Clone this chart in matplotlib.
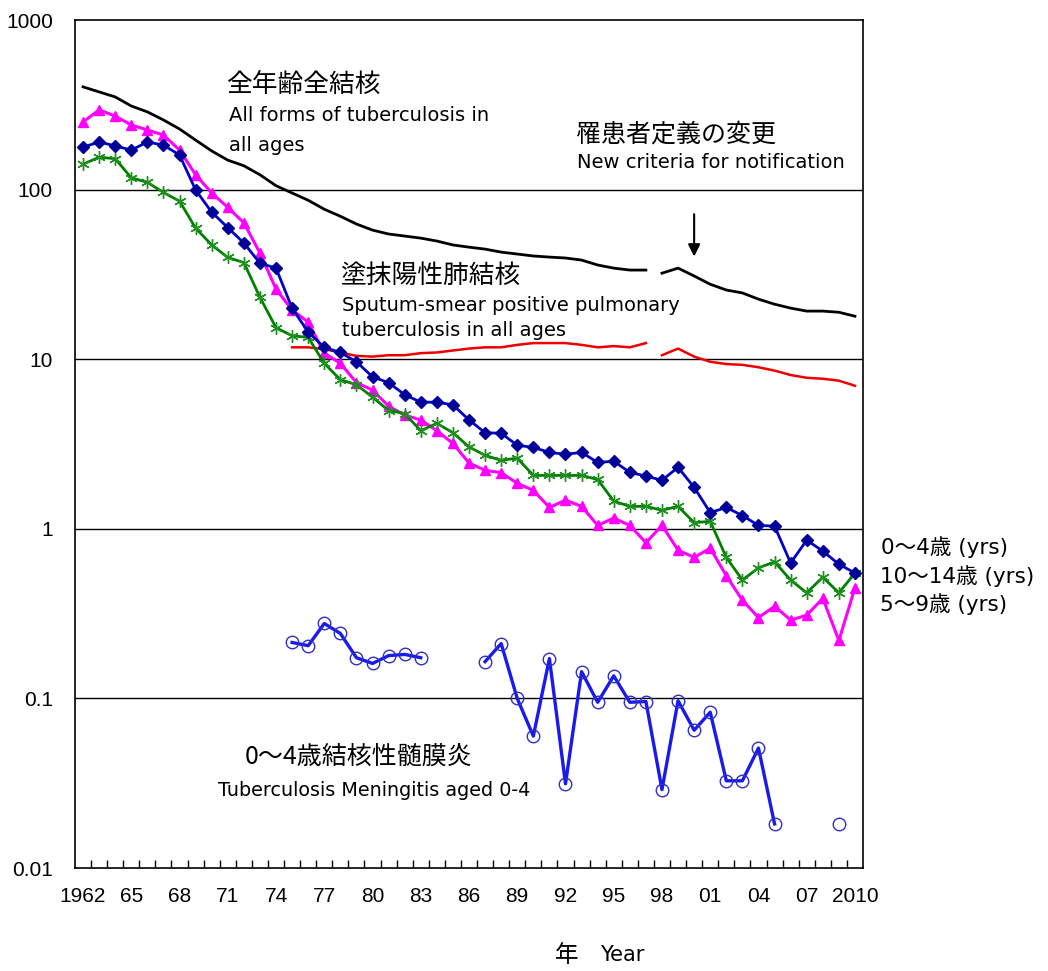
import numpy as np
import matplotlib
matplotlib.use("Agg")
import matplotlib.pyplot as plt
from matplotlib.ticker import FixedLocator, NullFormatter

# ---------------- data ----------------
years = list(range(1962, 2011))

# All forms of TB, all ages (old notification criteria 1962-1997, new 1998-2010)
all_forms_old_years = list(range(1962, 1998))
all_forms_old = [406, 379, 354, 313, 289, 259, 229, 197, 170, 150, 139, 123, 106, 96,
                 87, 77, 70, 63, 58, 55, 53.5, 52, 50, 47.4, 46, 44.8, 43.0, 41.9,
                 40.8, 40.2, 39.7, 38.6, 36.1, 34.6, 33.7, 33.7]
all_forms_new_years = list(range(1998, 2011))
all_forms_new = [32.3, 34.6, 31.1, 27.8, 25.7, 24.7, 22.7, 21.2, 20.1, 19.3, 19.3, 19.0, 18.0]

# Sputum-smear positive pulmonary TB, all ages
smear_old_years = list(range(1975, 1998))
smear_old = [11.8, 11.8, 11.5, 11.0, 10.5, 10.4, 10.6, 10.6, 10.9, 11.0, 11.3, 11.6,
             11.8, 11.8, 12.2, 12.5, 12.5, 12.5, 12.2, 11.8, 12.0, 11.8, 12.5]
smear_new_years = list(range(1998, 2011))
smear_new = [10.6, 11.6, 10.4, 9.7, 9.4, 9.3, 9.0, 8.6, 8.1, 7.8, 7.7, 7.5, 7.0]

# Age groups 1962-2010
age_0_4 = [179, 192, 182, 172, 192, 184, 161, 100, 74, 60, 48.7, 37, 34.6, 20.1,
           14.5, 11.8, 11.0, 9.7, 7.9, 7.3, 6.2, 5.6, 5.6, 5.4, 4.4, 3.7, 3.67, 3.12,
           3.03, 2.83, 2.76, 2.83, 2.47, 2.51, 2.16, 2.05, 1.94, 2.31, 1.76, 1.25,
           1.34, 1.20, 1.05, 1.04, 0.63, 0.86, 0.74, 0.62, 0.55]
age_5_9 = [252, 297, 273, 242, 226, 211, 172, 123, 96, 79, 64, 42.5, 26.0, 19.6,
           16.6, 10.9, 9.5, 7.3, 6.6, 5.3, 4.7, 4.4, 3.8, 3.2, 2.45, 2.22, 2.15, 1.86,
           1.69, 1.34, 1.48, 1.36, 1.05, 1.16, 1.05, 0.83, 1.05, 0.75, 0.68, 0.77,
           0.53, 0.38, 0.30, 0.35, 0.29, 0.31, 0.39, 0.22, 0.45]
age_10_14 = [142, 156, 153, 118, 111, 96.7, 86, 59.6, 47.4, 40, 37.3, 23.3, 15.4, 13.8,
             13.5, 9.5, 7.6, 7.1, 6.0, 5.0, 4.8, 3.8, 4.2, 3.7, 3.05, 2.72, 2.54, 2.62,
             2.07, 2.07, 2.07, 2.07, 1.96, 1.46, 1.36, 1.36, 1.29, 1.36, 1.09, 1.11,
             0.68, 0.50, 0.59, 0.64, 0.50, 0.42, 0.52, 0.42, 0.55]

# TB meningitis aged 0-4 (1975-2009, nan = no data)
men_years = list(range(1975, 2010))
men_vals = [0.214, 0.205, 0.277, 0.242, 0.174, 0.161, 0.179, 0.182, 0.174,
            np.nan, np.nan, np.nan,
            0.165, 0.211, 0.100, 0.060, 0.172, 0.0314, 0.144, 0.095, 0.136, 0.095,
            0.096, 0.029, 0.097, 0.065, 0.083, 0.0327, 0.0327, 0.051, 0.0182,
            np.nan, np.nan, np.nan, 0.0182]

xtick_years = list(range(1962, 2011, 3))
xtick_labels = ["1962", "65", "68", "71", "74", "77", "80", "83", "86", "89", "92",
                "95", "98", "01", "04", "07", "2010"]
ytick_vals = [0.01, 0.1, 1, 10, 100, 1000]
ytick_labels = ["0.01", "0.1", "1", "10", "100", "1000"]

# ---------------- figure ----------------
W, H = 1048, 971
fig = plt.figure(figsize=(W / 100, H / 100), dpi=100)
ax = fig.add_axes([75 / W, 1 - 868 / H, (863 - 75) / W, (868 - 20.5) / H])

JP = ["Noto Sans CJK JP", "DejaVu Sans"]
EN = ["DejaVu Sans", "Noto Sans CJK JP"]
NUM = ["Liberation Sans Narrow", "Liberation Sans", "DejaVu Sans"]

ax.set_yscale("log")
ax.set_ylim(0.01, 1000)
ax.set_xlim(1961.5, 2010.5)

# grid lines at decades
for v in [0.1, 1, 10, 100]:
    ax.axhline(v, color="black", lw=1.0, zorder=1)

# series
ax.plot(all_forms_old_years, all_forms_old, color="black", lw=2.0, zorder=3)
ax.plot(all_forms_new_years, all_forms_new, color="black", lw=2.0, zorder=3)
ax.plot(smear_old_years, smear_old, color="#ee0000", lw=1.8, zorder=3)
ax.plot(smear_new_years, smear_new, color="#ee0000", lw=1.8, zorder=3)

ax.plot(years, age_5_9, color="#ff00ff", lw=2.2, marker="^", ms=7.5,
        mfc="#ff00ff", mec="#ff00ff", zorder=4)
ax.plot(years, age_10_14, color="#008000", lw=2.0, marker=(6, 2, 0), ms=9,
        mec="#209020", mew=1.0, zorder=5)
ax.plot(years, age_0_4, color="#0000cc", lw=2.0, marker="D", ms=6,
        mfc="#000099", mec="#000099", zorder=6)

ax.plot(men_years, men_vals, color="#1a1aee", lw=2.4, marker="o", ms=9,
        mfc="none", mec="#3030c0", mew=1.0, zorder=4)

# arrow (change of notification criteria)
ax.annotate("", xy=(2000, 40.5), xytext=(2000, 72),
            arrowprops=dict(arrowstyle="-|>", color="black", lw=1.5,
                            mutation_scale=18, shrinkA=0, shrinkB=0))

# axes styling
for s in ax.spines.values():
    s.set_color("black")
    s.set_linewidth(1.2)

ax.yaxis.set_major_locator(FixedLocator(ytick_vals))
ax.set_yticklabels(ytick_labels, family=NUM, fontsize=15)
ax.yaxis.set_minor_locator(FixedLocator([]))
ax.yaxis.set_minor_formatter(NullFormatter())
ax.tick_params(axis="y", which="major", length=0, pad=16)

ax.xaxis.set_major_locator(FixedLocator(xtick_years))
ax.set_xticklabels(xtick_labels, family=NUM, fontsize=15)
ax.xaxis.set_minor_locator(FixedLocator([y + 0.5 for y in years[:-1]]))
ax.tick_params(axis="x", which="major", length=0, pad=14)
ax.tick_params(axis="x", which="minor", direction="in", length=6, width=1.0,
               color="black")


def ftext(px, py, s, size, family=JP):
    fig.text(px / W, 1 - py / H, s, fontsize=size, family=family,
             ha="left", va="top", color="black")


# annotations
ftext(226, 72, "全年齢全結核", 18.5)
ftext(229, 106, "All forms of tuberculosis in", 14, EN)
ftext(229, 136, "all ages", 14, EN)

ftext(576, 122, "罹患者定義の変更", 18)
ftext(577, 153, "New criteria for notification", 14, EN)

ftext(341, 263, "塗抹陽性肺結核", 18.5)
ftext(342, 296, "Sputum-smear positive pulmonary", 14, EN)
ftext(342, 321, "tuberculosis in all ages", 14, EN)

ftext(245, 744, "0～4歳結核性髄膜炎", 18)
ftext(218, 781, "Tuberculosis Meningitis aged 0-4", 13.8, EN)

ftext(881, 536, "0～4歳 (yrs)", 15.5, EN)
ftext(880, 565, "10～14歳 (yrs)", 15.5, EN)
ftext(880, 593, "5～9歳 (yrs)", 15.5, EN)

fig.text(555 / W, 1 - 955 / H, "年", fontsize=17, family=JP,
         ha="left", va="center")
fig.text(600 / W, 1 - 955 / H, "Year", fontsize=15, family=EN,
         ha="left", va="center")

fig.savefig("out.png", dpi=100, facecolor="white")
